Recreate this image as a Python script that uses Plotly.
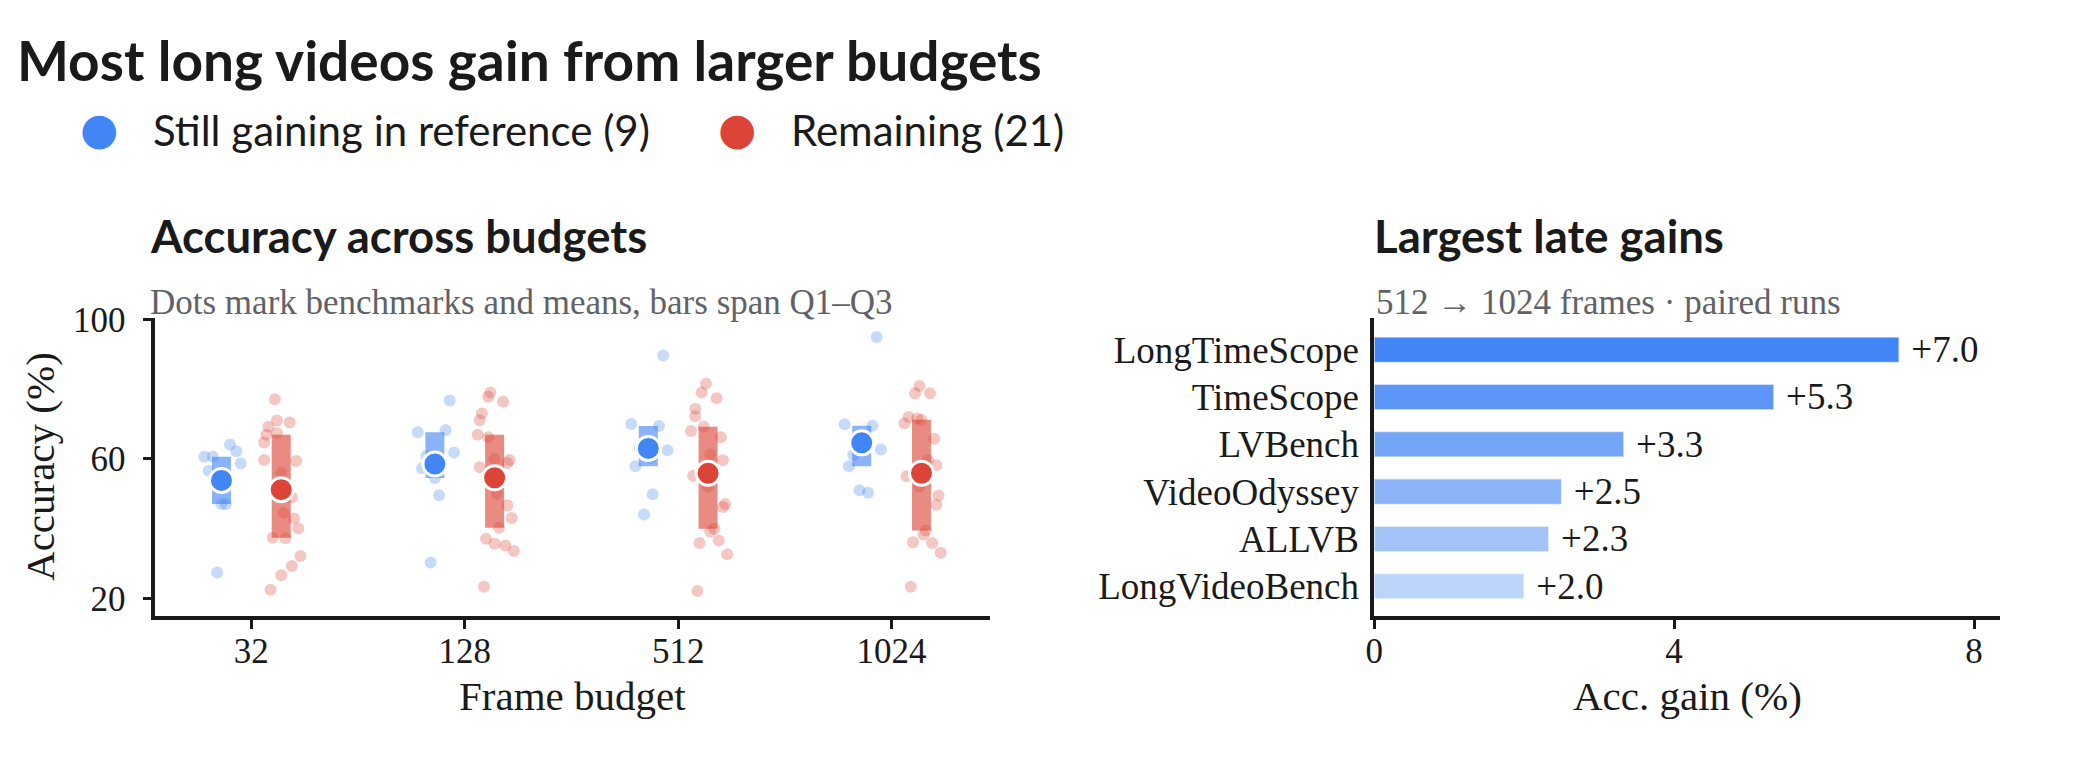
import numpy as np
import plotly.graph_objects as go

# ---- data ----
budgets = ["32", "128", "512", "1024"]

# accuracy (%) per benchmark, one list per frame budget
gaining_acc = [
    [64.1, 62.2, 60.6, 60.6, 58.7, 56.6, 47.1, 47.1, 27.5],
    [76.7, 67.6, 68.3, 61.8, 60.8, 57.3, 54.5, 49.6, 30.3],
    [89.6, 70.0, 69.4, 62.5, 63.2, 57.9, 49.9, 44.1, 60.4],
    [94.9, 69.9, 69.5, 62.7, 61.1, 57.9, 51.0, 50.3, 64.1],
]
# horizontal jitter of each dot (category units, relative to its group)
gaining_jitter = [
    [0.04, 0.07, -0.08, -0.04, 0.09, -0.06, 0.00, 0.02, -0.02],
    [0.07, -0.08, 0.05, 0.09, -0.04, -0.06, 0.00, 0.02, -0.02],
    [0.07, -0.08, 0.05, 0.09, -0.04, -0.06, 0.02, -0.02, 0.01],
    [0.07, -0.08, 0.05, 0.09, -0.04, -0.06, -0.01, 0.03, 0.00],
]

remaining_acc = [
    [77.1, 71.0, 70.4, 69.2, 66.9, 67.4, 64.7, 59.7, 59.4, 49.0, 42.9,
     40.1, 37.4, 37.3, 32.2, 29.3, 26.7, 22.5, 56.0, 51.5, 44.5],
    [79.0, 77.8, 76.4, 73.0, 71.1, 66.9, 66.2, 57.6, 59.7, 58.8, 46.7,
     43.1, 40.3, 37.1, 35.7, 35.2, 33.6, 23.4, 60.0, 55.0, 50.0],
    [81.5, 79.0, 77.4, 74.4, 72.2, 68.0, 69.2, 66.2, 59.6, 55.2, 47.1,
     46.2, 39.2, 35.9, 36.6, 32.7, 22.2, 40.0, 52.0, 58.0, 61.3],
    [80.9, 78.8, 78.8, 72.0, 70.2, 71.6, 65.8, 58.2, 55.0, 49.5, 46.9,
     38.3, 36.1, 35.9, 33.1, 23.4, 39.5, 71.2, 52.0, 57.0, 59.7],
]
remaining_jitter = [
    [-0.03, -0.02, 0.04, -0.06, -0.07, -0.02, -0.08, -0.08, 0.07, 0.05, 0.06,
     0.08, -0.04, 0.02, 0.09, 0.05, 0.00, -0.05, 0.00, -0.01, 0.01],
    [-0.02, -0.03, 0.04, -0.06, -0.07, -0.08, -0.03, -0.07, 0.07, 0.06, 0.06,
     0.08, 0.02, -0.04, 0.00, 0.05, 0.09, -0.05, 0.00, 0.00, 0.01],
    [-0.01, -0.03, 0.04, -0.06, -0.06, -0.08, -0.02, 0.06, 0.07, -0.07, 0.08,
     0.07, 0.01, -0.04, 0.05, 0.09, -0.05, 0.03, 0.00, -0.01, 0.01],
    [-0.01, -0.03, 0.04, -0.06, -0.08, -0.02, 0.06, 0.07, -0.07, 0.08, 0.07,
     0.01, -0.04, 0.05, 0.09, -0.05, 0.02, 0.00, -0.01, 0.01, 0.03],
]

late_benchmarks = ["LongTimeScope", "TimeScope", "LVBench",
                   "VideoOdyssey", "ALLVB", "LongVideoBench"]
late_gain = [7.0, 5.33, 3.33, 2.5, 2.33, 2.0]

# ---- styles ----
BLUE = "#4285f4"
RED = "#db4437"
INK = "#1a1a1a"
GREY = "#5f6368"
SERIF = "Liberation Serif"
SANS = "Lato"
SHIFT = 0.14  # group offset from the budget tick
late_colors = ["#4285f4", "#5b95f5", "#74a5f6", "#8bb4f8", "#a4c4f9", "#bed5fb"]


def jittered(acc, jitter, shift):
    xs, ys = [], []
    for i, (vals, jit) in enumerate(zip(acc, jitter)):
        xs += [i + shift + j for j in jit]
        ys += vals
    return xs, ys


def iqr_segments(acc, shift):
    xs, ys = [], []
    for i, vals in enumerate(acc):
        q1, q3 = np.percentile(vals, [25, 75])
        xs += [i + shift, i + shift, None]
        ys += [q1, q3, None]
    return xs, ys


groups = [
    (gaining_acc, gaining_jitter, -SHIFT, BLUE, "rgba(66,133,244,0.3)", "rgba(66,133,244,0.62)"),
    (remaining_acc, remaining_jitter, SHIFT, RED, "rgba(219,68,55,0.3)", "rgba(219,68,55,0.62)"),
]

fig = go.Figure()

for acc, jit, shift, col, light, mid in groups:
    x, y = jittered(acc, jit, shift)
    fig.add_trace(go.Scatter(x=x, y=y, mode="markers", xaxis="x", yaxis="y",
                             marker=dict(size=12, color=light, line=dict(width=0)),
                             hoverinfo="skip", showlegend=False))

for acc, jit, shift, col, light, mid in groups:
    x, y = iqr_segments(acc, shift)
    fig.add_trace(go.Scatter(x=x, y=y, mode="lines", xaxis="x", yaxis="y",
                             line=dict(width=19, color=mid),
                             hoverinfo="skip", showlegend=False))

for acc, jit, shift, col, light, mid in groups:
    fig.add_trace(go.Scatter(x=[i + shift for i in range(len(budgets))],
                             y=[np.mean(v) for v in acc],
                             mode="markers", xaxis="x", yaxis="y",
                             marker=dict(size=24, color=col, line=dict(width=3, color="white")),
                             showlegend=False))

gain_labels = [f"+{v:.1f}" for v in late_gain]
fig.add_trace(go.Bar(x=late_gain, y=late_benchmarks, orientation="h",
                     xaxis="x2", yaxis="y2", width=0.54,
                     marker=dict(color=late_colors, line=dict(width=1.5, color="rgba(255,255,255,0.6)")),
                     text=gain_labels, texttemplate="\u00a0%{text}", textposition="outside",
                     constraintext="none", cliponaxis=False,
                     textfont=dict(family=SERIF, size=37, color=INK),
                     showlegend=False))

axis_style = dict(showline=True, linecolor=INK, linewidth=3.5, ticks="outside",
                  ticklen=9, tickwidth=3, tickcolor=INK, showgrid=False,
                  zeroline=False, tickfont=dict(family=SERIF, size=35, color=INK))

fig.update_layout(
    width=2090, height=779,
    margin=dict(l=0, r=0, t=0, b=0),
    paper_bgcolor="white", plot_bgcolor="white",
    xaxis=dict(axis_style, domain=[0.0703, 0.4713], range=[-0.45, 3.46],
               tickmode="array", tickvals=list(range(len(budgets))),
               ticktext=budgets, anchor="y", ticklabelstandoff=-8),
    yaxis=dict(axis_style, domain=[0.2118, 0.6046], range=[15, 100.5],
               tickmode="array", tickvals=[20, 60, 100], anchor="x",
               ticklabelstandoff=10),
    xaxis2=dict(axis_style, domain=[0.6560, 0.9569], range=[0, 8.35],
                tickmode="array", tickvals=[0, 4, 8], anchor="y2",
                ticklabelstandoff=-8),
    yaxis2=dict(axis_style, domain=[0.2118, 0.6046], type="category",
                range=[5.63, -0.68], ticks="", anchor="x2",
                tickfont=dict(family=SERIF, size=37, color=INK),
                ticklabelstandoff=4),
)

n_gain = len(gaining_acc[0])
n_rest = len(remaining_acc[0])

notes = [
    dict(text="Most long videos gain from larger budgets", x=0.0030, y=0.943,
         font=dict(family=SANS, size=55, color=INK, weight="bold")),
    dict(text="\u25cf", x=0.0434, y=0.853, xanchor="center",
         font=dict(family="DejaVu Sans", size=44, color=BLUE)),
    dict(text=f"Still gaining in reference ({n_gain})", x=0.0684, y=0.851,
         font=dict(family=SANS, size=42, color=INK)),
    dict(text="\u25cf", x=0.3500, y=0.853, xanchor="center",
         font=dict(family="DejaVu Sans", size=44, color=RED)),
    dict(text=f"Remaining ({n_rest})", x=0.3746, y=0.851,
         font=dict(family=SANS, size=42, color=INK)),
    dict(text="Accuracy across budgets", x=0.0670, y=0.712,
         font=dict(family=SANS, size=45.5, color=INK, weight="bold")),
    dict(text="Largest late gains", x=0.6550, y=0.712,
         font=dict(family=SANS, size=45.5, color=INK, weight="bold")),
    dict(text="Dots mark benchmarks and means, bars span Q1\u2013Q3", x=0.0670, y=0.624,
         font=dict(family=SERIF, size=35, color=GREY)),
    dict(text="512 \u2192 1024 frames \u00b7 paired runs", x=0.6560, y=0.624,
         font=dict(family=SERIF, size=35, color=GREY)),
    dict(text="Frame budget", x=0.2708, y=0.107, xanchor="center",
         font=dict(family=SERIF, size=41, color=INK)),
    dict(text="Acc. gain (%)", x=0.8064, y=0.107, xanchor="center",
         font=dict(family=SERIF, size=41, color=INK)),
    dict(text="Accuracy (%)", x=0.0150, y=0.4082, xanchor="center", textangle=-90,
         font=dict(family=SERIF, size=41, color=INK)),
]
for n in notes:
    n.setdefault("xanchor", "left")
    fig.add_annotation(xref="paper", yref="paper", yanchor="middle",
                       showarrow=False, **n)

fig.write_html("out.html", config={"displayModeBar": False},
               post_script="document.body.style.margin = '0px';")
